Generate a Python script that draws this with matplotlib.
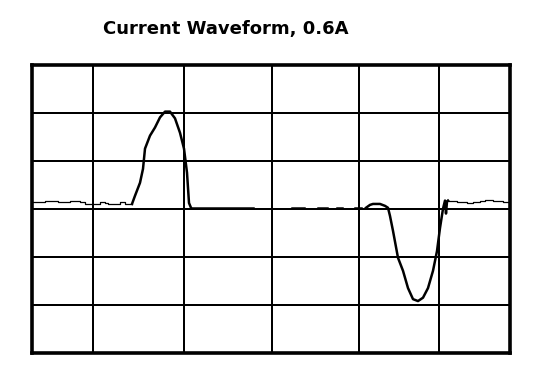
import numpy as np
import matplotlib as mpl
from matplotlib import pyplot as plt

mpl.rcParams['font.family'] = ['DejaVu Sans']

# 标题
title = 'Current Waveform, 0.6A'

# 网格位置 (横向单位: 采样位置, 纵向单位: 格)
grid_x = [61, 152, 240, 327, 407]
grid_y = [-2, -1, 0, 1, 2]
x_max = 478

# 左侧基线 (阶梯状)
left_x = [1, 13, 26, 38, 48, 53, 68, 73, 76, 88, 93, 100]
left_y = [0.13, 0.17, 0.15, 0.17, 0.13, 0.10, 0.15, 0.12, 0.10, 0.13, 0.10, 0.10]

# 正脉冲
pos_x = [100, 103, 108, 111, 113, 118, 123, 128, 133, 138, 143, 148, 152, 155, 157, 159]
pos_y = [0.10, 0.27, 0.54, 0.83, 1.25, 1.52, 1.69, 1.90, 2.02, 2.02, 1.88, 1.58, 1.25, 0.75, 0.12, 0.02]

# 零电平段
flat_x = [159, 221]
flat_y = [0.02, 0.02]

# 中间虚线段
dash_x = [260, 272, np.nan, 286, 295, np.nan, 305, 310, np.nan, 323, 329]
dash_y = [0.02, 0.02, np.nan, 0.02, 0.02, np.nan, 0.02, 0.02, np.nan, 0.02, 0.02]

# 负脉冲
neg_x = [334, 338, 341, 348, 353, 356, 358, 361, 366, 371, 376, 381, 386, 391, 396,
         401, 405, 408, 411, 413, 414, 415, 416]
neg_y = [0.02, 0.08, 0.10, 0.10, 0.06, 0.02, -0.15, -0.46, -1.02, -1.29, -1.65, -1.88,
         -1.92, -1.85, -1.65, -1.29, -0.88, -0.40, 0.00, 0.17, -0.10, 0.15, 0.17]

# 右侧基线 (阶梯状)
right_x = [416, 425, 435, 441, 448, 453, 461, 471, 477]
right_y = [0.17, 0.13, 0.11, 0.15, 0.17, 0.18, 0.17, 0.15, 0.15]

fig = plt.figure(figsize=(5.39, 3.73), dpi=100)
ax = fig.add_axes([32 / 539, 20 / 373, 478 / 539, 288.5 / 373])

# 网格
for gx in grid_x:
    ax.axvline(gx, color='black', lw=1.2, antialiased=False, zorder=1)
for gy in grid_y:
    ax.axhline(gy, color='black', lw=1.2, antialiased=False, zorder=1)

# 波形
ax.plot(left_x, left_y, color='black', lw=0.9, drawstyle='steps-post', zorder=3)
ax.plot(pos_x, pos_y, color='black', lw=1.8, zorder=3)
ax.plot(flat_x, flat_y, color='black', lw=1.8, zorder=3)
ax.plot(dash_x, dash_y, color='black', lw=1.8, zorder=3)
ax.plot(neg_x, neg_y, color='black', lw=1.8, zorder=3)
ax.plot(right_x, right_y, color='black', lw=0.9, drawstyle='steps-post', zorder=3)

ax.set_xlim(0, x_max)
ax.set_ylim(-3, 3)
ax.set_xticks([])
ax.set_yticks([])
for s in ax.spines.values():
    s.set_linewidth(2.6)
    s.set_color('black')

fig.text(226 / 539, 1 - 29 / 373, title, ha='center', va='center',
         fontsize=13, fontweight='bold', color='black')

plt.savefig('out.png', dpi=100)
